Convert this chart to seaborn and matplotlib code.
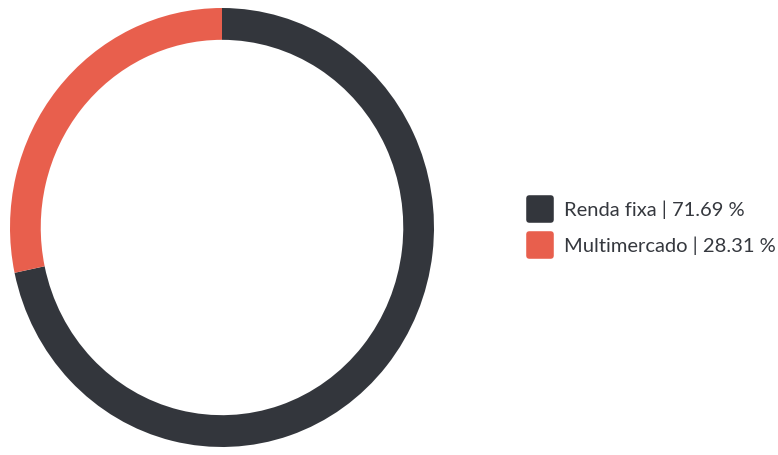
import seaborn as sns
from matplotlib import pyplot as plt
from matplotlib.lines import Line2D
from matplotlib.markers import MarkerStyle

# portfolio split
categories = ['Renda fixa', 'Multimercado']
shares = [71.69, 28.31]
colors = ['#33363c', '#e85f4d']

sns.set_theme(style='white')
plt.rcParams['font.family'] = ['Lato', 'DejaVu Sans']

fig = plt.figure(figsize=(7.78, 4.55), dpi=100)
ax = fig.add_axes([10 / 778, 8 / 455, 424 / 778, 439 / 455])

ax.pie(shares, colors=colors, startangle=90, counterclock=False,
       wedgeprops=dict(width=0.145, edgecolor='none'), radius=1)
ax.set_xlim(-1, 1)
ax.set_ylim(-1, 1)
ax.set_aspect('auto')
ax.axis('off')

labels = [f'{c} | {v:.2f} %' for c, v in zip(categories, shares)]
rounded = MarkerStyle('s', joinstyle='round')
handles = [Line2D([], [], linestyle='none', marker=rounded, markersize=16,
                  markerfacecolor=col, markeredgecolor=col, markeredgewidth=4)
           for col in colors]
fig.legend(handles, labels, loc='center left',
           bbox_to_anchor=(518 / 778, 227 / 455), frameon=False,
           fontsize=14.5, labelcolor='#35383e', handlelength=1.2,
           handletextpad=0.6, labelspacing=0.85, borderpad=0)

fig.savefig('out.png', dpi=100)
